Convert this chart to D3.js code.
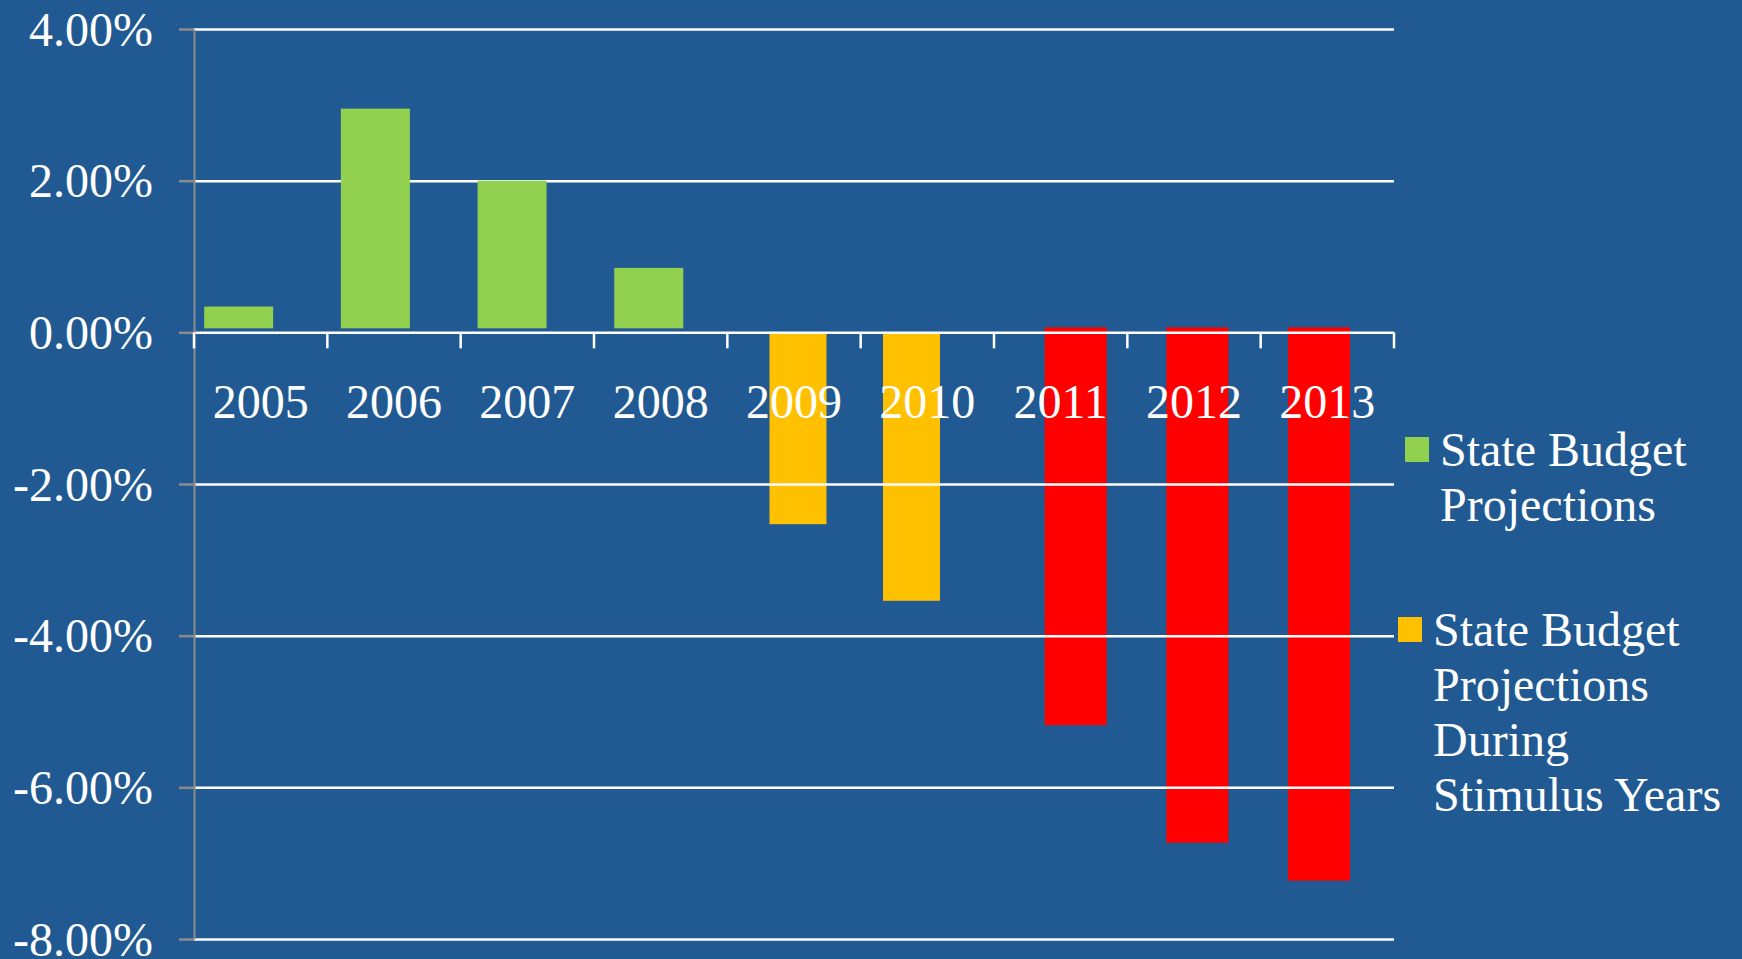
<!DOCTYPE html>
<html>
<head>
<meta charset="utf-8">
<script src="https://cdn.jsdelivr.net/npm/d3@7"></script>
<style>
  body { margin: 0; background: #215a92; }
  svg { display: block; }
  text { font-family: "Liberation Serif", "Times New Roman", serif; fill: #fff; }
</style>
</head>
<body>
<div id="chart"></div>
<script>
// datos (% de cambio)
const years = ['2005', '2006', '2007', '2008', '2009', '2010', '2011', '2012', '2013'];
const values = [0.34, 2.95, 2.0, 0.85, -2.53, -3.54, -5.18, -6.73, -7.23];
const groups = ['budget', 'budget', 'budget', 'budget', 'stimulus', 'stimulus', 'cuts', 'cuts', 'cuts'];
const yTicks = [4, 2, 0, -2, -4, -6, -8];
const legendGroups = ['budget', 'stimulus'];
const legendLines = [
    ['State Budget', 'Projections'],
    ['State Budget', 'Projections', 'During', 'Stimulus Years']
];

const width = 1742;
const height = 959;
const plotLeft = 194, plotRight = 1394, plotTop = 29, plotBottom = 939;

// estilo por grupo de barras (cada grupo tiene su propio paso, como en el original)
const style = {
    budget:   { fill: '#92d050', w: 69, dx: -22, step: 136.7, base: -4, overGrid: true },
    stimulus: { fill: '#ffc000', w: 57, dx: 4,   step: 113.5, base: 1,  overGrid: false },
    cuts:     { fill: '#ff0000', w: 62, dx: 15,  step: 121.7, base: -5, overGrid: false }
};

const svg = d3.select('#chart').append('svg')
    .attr('width', width)
    .attr('height', height);

const x = d3.scaleBand().domain(years).range([plotLeft, plotRight]);
const y = d3.scaleLinear().domain([-8, 4]).range([plotBottom, plotTop]);

const rows = years.map((d, i) => ({ year: d, value: values[i], group: groups[i] }));
// primera categoria y posicion dentro del grupo
rows.forEach(d => {
    const members = rows.filter(r => r.group === d.group);
    d.first = members[0].year;
    d.k = members.indexOf(d);
});

function barCenter(d) {
    const s = style[d.group];
    return x(d.first) + x.bandwidth() / 2 + s.dx + d.k * s.step;
}

function drawBars(sel, data) {
    sel.selectAll('rect')
        .data(data)
        .enter()
        .append('rect')
        .attr('x', d => barCenter(d) - style[d.group].w / 2)
        .attr('width', d => style[d.group].w)
        .attr('y', d => d.value >= 0 ? y(d.value) : y(0) + style[d.group].base)
        .attr('height', d => d.value >= 0
            ? y(0) + style[d.group].base - y(d.value)
            : y(d.value) - y(0) - style[d.group].base)
        .attr('fill', d => style[d.group].fill);
}

// barras debajo de la cuadricula
drawBars(svg.append('g'), rows.filter(d => !style[d.group].overGrid));

// cuadricula
const grid = svg.append('g')
    .attr('transform', `translate(${plotLeft},0)`)
    .call(d3.axisLeft(y).tickValues(yTicks).tickSize(-(plotRight - plotLeft)).tickFormat(''));
grid.select('.domain').remove();
grid.selectAll('line').attr('stroke', '#fff').attr('stroke-width', 2.5);

// barras encima de la cuadricula
drawBars(svg.append('g'), rows.filter(d => style[d.group].overGrid));

// eje Y
const yAxis = svg.append('g')
    .attr('transform', `translate(${plotLeft},0)`)
    .call(d3.axisLeft(y)
        .tickValues(yTicks)
        .tickSize(15)
        .tickSizeOuter(0)
        .tickPadding(26)
        .tickFormat(d => d.toFixed(2) + '%'));
yAxis.select('.domain').attr('stroke', '#8c8c8c').attr('stroke-width', 2);
yAxis.selectAll('line').attr('stroke', '#8c8c8c').attr('stroke-width', 2.5);
yAxis.selectAll('text')
    .attr('fill', '#fff')
    .attr('dy', null)
    .attr('y', 16)
    .style('font-size', '48px')
    .style('font-family', '"Liberation Serif", serif');

// eje X en el cero
const xAxis = svg.append('g')
    .attr('transform', `translate(0,${y(0)})`)
    .call(d3.axisBottom(x).tickSize(16).tickPadding(0));
xAxis.select('.domain').remove();
xAxis.selectAll('.tick line').remove();
xAxis.selectAll('.tick text')
    .attr('y', 86)
    .attr('dy', null)
    .attr('fill', '#fff')
    .style('font-size', '48px')
    .style('font-family', '"Liberation Serif", serif');

// marcas de separacion entre categorias
const edges = years.map(d => x(d)).concat([plotRight]);
svg.append('g').selectAll('line')
    .data(edges)
    .enter()
    .append('line')
    .attr('x1', d => d).attr('x2', d => d)
    .attr('y1', y(0)).attr('y2', y(0) + 16)
    .attr('stroke', '#fff')
    .attr('stroke-width', 2.5);

// leyenda
const legendPos = [{ x: 1405, y: 437, tx: 1440 }, { x: 1398, y: 617, tx: 1433 }];
const legend = svg.append('g');
legendGroups.forEach((g, i) => {
    const p = legendPos[i];
    legend.append('rect')
        .attr('x', p.x).attr('y', p.y)
        .attr('width', 24).attr('height', 25)
        .attr('fill', style[g].fill);
    legend.append('text')
        .attr('x', p.tx)
        .attr('y', p.y + 29)
        .style('font-size', '48px')
        .selectAll('tspan')
        .data(legendLines[i])
        .enter()
        .append('tspan')
        .attr('x', p.tx)
        .attr('dy', (d, j) => j === 0 ? 0 : 55)
        .text(d => d);
});
</script>
</body>
</html>
